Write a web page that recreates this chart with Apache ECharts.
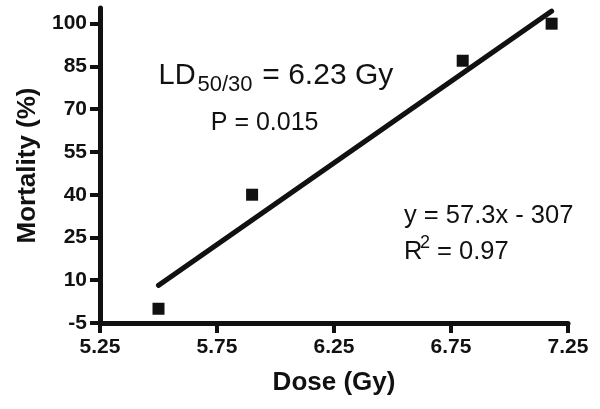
<!DOCTYPE html>
<html>
<head>
<meta charset="utf-8">
<script src="https://cdn.jsdelivr.net/npm/echarts@6/dist/echarts.min.js"></script>
<style>
html,body{margin:0;padding:0;background:#fff;}
#chart{width:600px;height:409px;}
</style>
</head>
<body>
<div id="chart"></div>
<script>
// Data
var doseX = [5.5, 5.9, 6.8, 7.18];
var mortalityY = [0, 40, 87, 100];
// Regression line endpoints (y = 57.3x - 307)
var fitX = [5.5, 7.18];
var fitY = [8.2, 104.4];
// Tick labels
var yTicks = [-5, 10, 25, 40, 55, 70, 85, 100];
var xTicks = [5.25, 5.75, 6.25, 6.75, 7.25];

var FONT = '"Liberation Sans", Arial, Helvetica, sans-serif';
var INK = '#111';

var pts = doseX.map(function (x, i) { return [x, mortalityY[i]]; });
var fit = fitX.map(function (x, i) { return [x, fitY[i]]; });

var chart = echarts.init(document.getElementById('chart'), null, {renderer: 'canvas'});
chart.setOption({
  animation: false,
  backgroundColor: '#fff',
  grid: {left: 100, right: 32, top: 8, bottom: 86, containLabel: false},
  xAxis: {
    type: 'value', min: 5.25, max: 7.25, interval: 0.5,
    name: 'Dose (Gy)', nameLocation: 'middle', nameGap: 47,
    nameTextStyle: {fontFamily: FONT, fontWeight: 'bold', fontSize: 26, color: INK},
    axisLine: {show: true, onZero: false, lineStyle: {color: INK, width: 5}},
    axisTick: {show: true, length: 10, lineStyle: {color: INK, width: 4}, customValues: xTicks},
    axisLabel: {fontFamily: FONT, fontWeight: 'bold', fontSize: 21, color: INK, margin: 14,
      customValues: xTicks,
      formatter: function (v) { return v.toFixed(2); }},
    splitLine: {show: false}
  },
  yAxis: {
    type: 'value', min: -5, max: 105.5, interval: 15,
    name: 'Mortality (%)', nameLocation: 'middle', nameGap: 58, nameRotate: 90,
    nameTextStyle: {fontFamily: FONT, fontWeight: 'bold', fontSize: 26, color: INK},
    axisLine: {show: true, onZero: false, lineStyle: {color: INK, width: 5}},
    axisTick: {show: true, length: 10, lineStyle: {color: INK, width: 4}, customValues: yTicks},
    axisLabel: {fontFamily: FONT, fontWeight: 'bold', fontSize: 21, color: INK, margin: 13,
      customValues: yTicks},
    splitLine: {show: false}
  },
  series: [
    {
      type: 'line', data: fit, symbol: 'none', silent: true,
      lineStyle: {color: INK, width: 5, cap: 'round'}
    },
    {
      type: 'scatter', data: pts, symbol: 'rect', symbolSize: 12,
      itemStyle: {color: INK, opacity: 1}
    }
  ],
  graphic: [
    {type: 'text', x: 158.6, y: 76, style: {text: 'LD', font: '29px ' + FONT, fill: INK, verticalAlign: 'middle', lineHeight: 29}},
    {type: 'text', x: 197.5, y: 85, style: {text: '50/30', font: '22px ' + FONT, fill: INK, verticalAlign: 'middle', lineHeight: 22}},
    {type: 'text', x: 254, y: 76, style: {text: ' = 6.23 Gy', font: '30px ' + FONT, fill: INK, verticalAlign: 'middle', lineHeight: 30}},
    {type: 'text', x: 210.8, y: 123, style: {text: 'P = 0.015', font: '25px ' + FONT, fill: INK, verticalAlign: 'middle', lineHeight: 25}},
    {type: 'text', x: 404, y: 216.3, style: {text: 'y = 57.3x - 307', font: '25.5px ' + FONT, fill: INK, verticalAlign: 'middle', lineHeight: 25}},
    {type: 'text', x: 404, y: 252.3, style: {text: 'R', font: '25.5px ' + FONT, fill: INK, verticalAlign: 'middle', lineHeight: 25}},
    {type: 'text', x: 420, y: 242.8, style: {text: '2', font: '18px ' + FONT, fill: INK, verticalAlign: 'middle', lineHeight: 18}},
    {type: 'text', x: 430, y: 252.3, style: {text: ' = 0.97', font: '25.5px ' + FONT, fill: INK, verticalAlign: 'middle', lineHeight: 25}}
  ]
});
</script>
</body>
</html>
